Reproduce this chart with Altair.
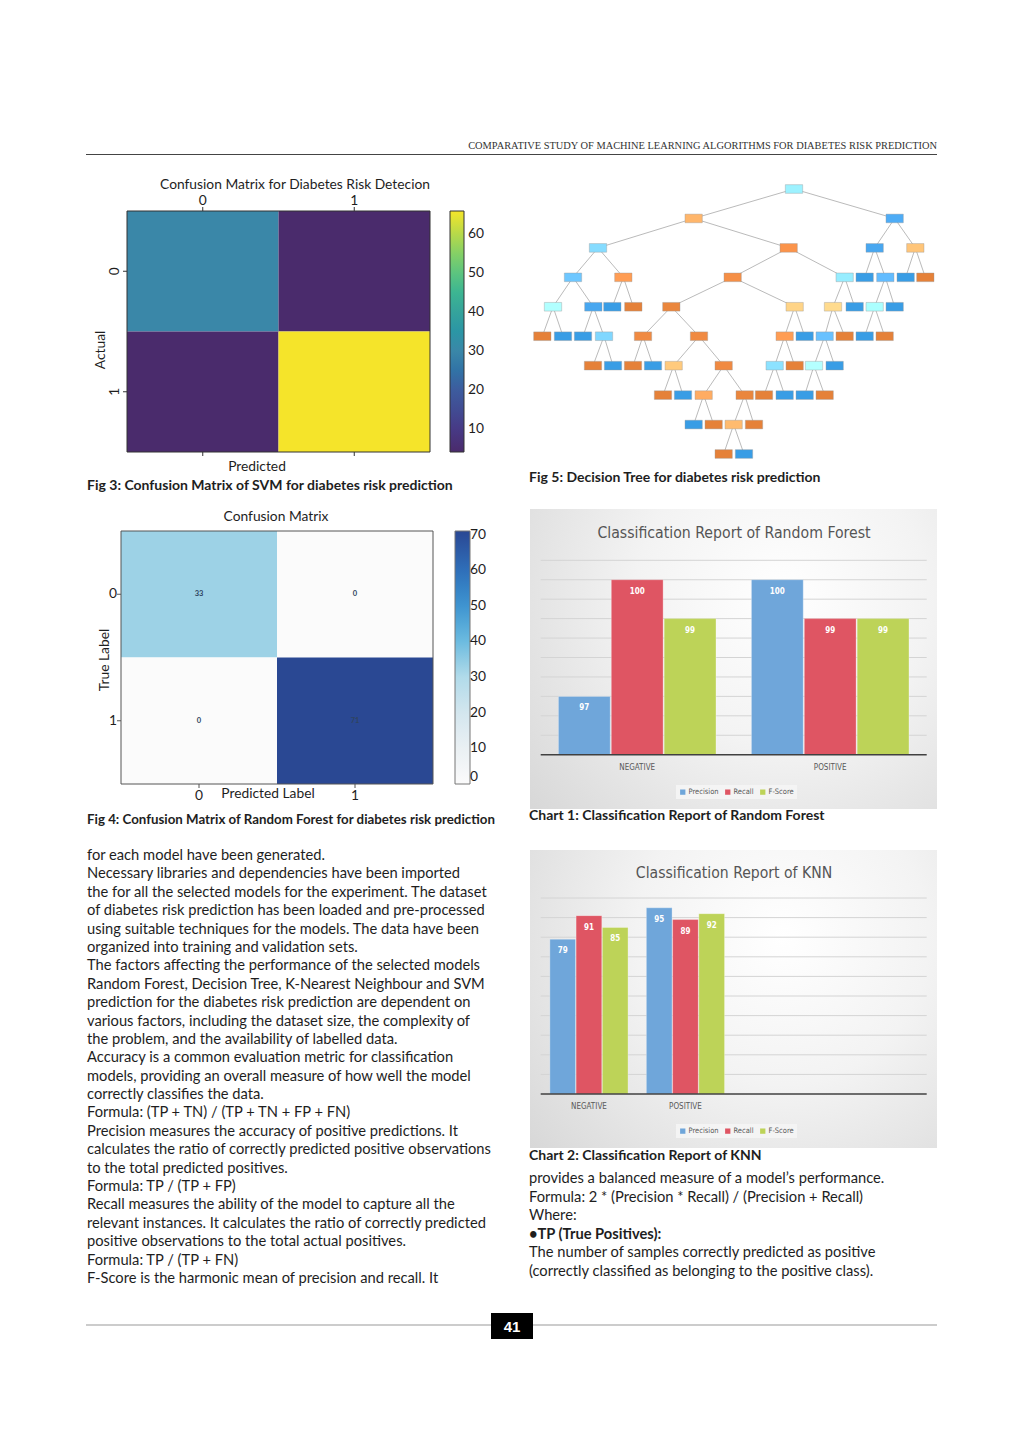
import altair as alt
import pandas as pd

# ---------------- data ----------------
# Fig 3: SVM confusion matrix
svm_pred = ["0", "1", "0", "1"]
svm_actual = ["0", "0", "1", "1"]
svm_counts = [30, 4, 4, 66]
svm_ticks = ["0", "1"]
svm_cbar_ticks = [10, 20, 30, 40, 50, 60]

# Fig 4: Random Forest confusion matrix
rf_pred = ["0", "1", "0", "1"]
rf_true = ["0", "0", "1", "1"]
rf_counts = [33, 0, 0, 71]
rf_ticks = ["0", "1"]
rf_cbar_ticks = [0, 10, 20, 30, 40, 50, 60, 70]

# Fig 5: decision tree nodes (horizontal slot, depth, parent id, class balance -1 orange .. +1 blue)
tree_x = [798, 497, 1100, 210, 782, 1040, 1162, 135, 286, 614, 950, 1010, 1072, 1133, 1192,
          75, 196, 253, 316, 430, 800, 915, 980, 1040, 1100,
          43, 105, 165, 228, 345, 513, 770, 830, 890, 950, 1010, 1070,
          195, 255, 315, 375, 437, 587, 740, 800, 858, 920,
          405, 465, 527, 650, 708, 770, 830, 890,
          497, 557, 617, 678, 587, 648]
tree_depth = [0, 1, 1, 2, 2, 2, 2, 3, 3, 3, 3, 3, 3, 3, 3,
              4, 4, 4, 4, 4, 4, 4, 4, 4, 4,
              5, 5, 5, 5, 5, 5, 5, 5, 5, 5, 5, 5,
              6, 6, 6, 6, 6, 6, 6, 6, 6, 6,
              7, 7, 7, 7, 7, 7, 7, 7,
              8, 8, 8, 8, 9, 9]
tree_parent = [-1, 0, 0, 1, 1, 2, 2, 3, 3, 4, 4, 5, 5, 6, 6,
               7, 7, 8, 8, 9, 9, 10, 10, 12, 12,
               15, 15, 16, 16, 19, 19, 20, 20, 21, 21, 23, 23,
               28, 28, 29, 29, 30, 30, 31, 31, 33, 33,
               41, 41, 42, 42, 43, 43, 45, 45,
               49, 49, 50, 50, 57, 57]
tree_balance = [0.2, -0.45, 0.85, 0.4, -0.8, 0.9, -0.3, 0.6, -0.7, -0.85, 0.25, 1.0, 0.7, 1.0, -1.0,
                0.03, 0.9, 1.0, -1.0, -0.95, -0.15, -0.08, 1.0, 0.08, 1.0,
                -1.0, 1.0, 1.0, 0.45, -0.9, -0.9, -0.7, 1.0, 0.65, -1.0, 1.0, -1.0,
                -1.0, 1.0, -1.0, 1.0, -0.25, -0.9, 0.35, -1.0, 0.0, 1.0,
                -1.0, 1.0, -0.55, -0.95, -1.0, 1.0, 1.0, -1.0,
                1.0, -1.0, -0.4, -1.0, -1.0, 1.0]

# Chart 1 / Chart 2: classification reports
classes = ["NEGATIVE", "POSITIVE"]
metrics = ["Precision", "Recall", "F-Score"]
rf_precision = [97, 100]
rf_recall = [100, 99]
rf_fscore = [99, 99]
rf_grid = [96.0, 96.5, 97.0, 97.5, 98.0, 98.5, 99.0, 99.5, 100.0, 100.5]
knn_precision = [79, 95]
knn_recall = [91, 89]
knn_fscore = [85, 92]
knn_grid = [10, 20, 30, 40, 50, 60, 70, 80, 90, 100]

# Text
header_text = "COMPARATIVE STUDY OF MACHINE LEARNING ALGORITHMS FOR DIABETES RISK PREDICTION"
left_lines = [
    "for each model have been generated.",
    "Necessary libraries and dependencies have been imported",
    "the for all the selected models for the experiment.  The dataset",
    "of diabetes risk prediction has been loaded and pre-processed",
    "using suitable techniques for the models. The data have been",
    "organized into training and validation sets.",
    "The factors affecting the performance of the selected models",
    "Random Forest, Decision Tree, K-Nearest Neighbour and SVM",
    "prediction for the diabetes risk prediction are dependent on",
    "various factors, including the dataset size, the complexity of",
    "the problem, and the availability of labelled data.",
    "Accuracy is a common evaluation metric for classification",
    "models, providing an overall measure of how well the model",
    "correctly classifies the data.",
    "Formula: (TP + TN) / (TP + TN + FP + FN)",
    "Precision measures the accuracy of positive predictions. It",
    "calculates the ratio of correctly predicted positive observations",
    "to the total predicted positives.",
    "Formula: TP / (TP + FP)",
    "Recall measures the ability of the model to capture all the",
    "relevant instances. It calculates the ratio of correctly predicted",
    "positive observations to the total actual positives.",
    "Formula: TP / (TP + FN)",
    "F-Score is the harmonic mean of precision and recall. It",
]
right_lines = [
    "provides a balanced measure of a model\u2019s performance.",
    "Formula: 2 * (Precision * Recall) / (Precision + Recall)",
    "Where:",
    "\u2022TP (True Positives):",
    "The number of samples correctly predicted as positive",
    "(correctly classified as belonging to the positive class).",
]
right_bold = [False, False, False, True, False, False]

# ---------------- helpers ----------------
FONT = "Lato"
NARROW = "'DejaVu Sans Condensed', 'Liberation Sans Narrow', Roboto, sans-serif"
SERIF = "'Liberation Serif', 'DejaVu Serif', serif"
TXT = "#1e1e1e"
MPL = 13.8
BODY = 14.7


def P(v):
    return v - 8


def one():
    return pd.DataFrame({"t": [""]})


def label(text, x, y, size=12.0, weight="normal", align="center", angle=0, color=TXT, font=FONT):
    return alt.Chart(pd.DataFrame({"t": [text]})).mark_text(
        align=align, baseline="middle", fontSize=size, fontWeight=weight,
        angle=angle, color=color, font=font
    ).encode(x=alt.value(P(x)), y=alt.value(P(y)), text="t:N")


def hrule(x1, x2, y, color="#333", width=1.0):
    return alt.Chart(one()).mark_rule(color=color, strokeWidth=width).encode(
        x=alt.value(P(x1)), x2=alt.value(P(x2)), y=alt.value(P(y)))


def frame(x1, x2, y1, y2, color="#333", width=1.0):
    return alt.Chart(one()).mark_rect(filled=False, stroke=color, strokeWidth=width).encode(
        x=alt.value(P(x1)), x2=alt.value(P(x2)), y=alt.value(P(y1)), y2=alt.value(P(y2)))


# ---------------- Fig 3: SVM confusion matrix ----------------
svm_df = pd.DataFrame({"pred": svm_pred, "act": svm_actual, "n": svm_counts})
svm_tick_df = pd.DataFrame({"k": svm_ticks})
sx = alt.Scale(domain=svm_ticks, range=[P(127), P(430)], paddingInner=0, paddingOuter=0)
sy = alt.Scale(domain=svm_ticks, range=[P(211), P(452)], paddingInner=0, paddingOuter=0)
vir_dom = [4, 10, 20, 30, 40, 50, 60, 66]
vir_rng = ["#4a2b6c", "#473a86", "#3d5c9e", "#3a87a8", "#35a39b", "#5cc47f", "#b6d94a", "#f5e42a"]

svm_cells = alt.Chart(svm_df).mark_rect().encode(
    x=alt.X("pred:N", scale=sx, axis=None),
    y=alt.Y("act:N", scale=sy, axis=None),
    color=alt.Color("n:Q", scale=alt.Scale(domain=vir_dom, range=vir_rng),
                    legend=alt.Legend(orient="none", legendX=P(450), legendY=P(211),
                                      direction="vertical", gradientLength=241,
                                      gradientThickness=14, values=svm_cbar_ticks, title=None,
                                      labelFont=FONT, labelFontSize=MPL, labelColor=TXT,
                                      gradientStrokeColor="#333", gradientStrokeWidth=1,
                                      labelOffset=4)),
)
svm_top_lab = alt.Chart(svm_tick_df).mark_text(fontSize=MPL, font=FONT, color=TXT, baseline="middle").encode(
    x=alt.X("k:N", scale=sx, axis=None, bandPosition=0.5), y=alt.value(P(201)), text="k:N")
svm_top_tick = alt.Chart(svm_tick_df).mark_rule(color="#333").encode(
    x=alt.X("k:N", scale=sx, axis=None, bandPosition=0.5), y=alt.value(P(207)), y2=alt.value(P(211)))
svm_bot_tick = alt.Chart(svm_tick_df).mark_rule(color="#333").encode(
    x=alt.X("k:N", scale=sx, axis=None, bandPosition=0.5), y=alt.value(P(452)), y2=alt.value(P(456)))
svm_left_lab = alt.Chart(svm_tick_df).mark_text(fontSize=MPL, font=FONT, color=TXT, angle=270, baseline="middle").encode(
    y=alt.Y("k:N", scale=sy, axis=None, bandPosition=0.5), x=alt.value(P(115)), text="k:N")
svm_left_tick = alt.Chart(svm_tick_df).mark_rule(color="#333").encode(
    y=alt.Y("k:N", scale=sy, axis=None, bandPosition=0.5), x=alt.value(P(123)), x2=alt.value(P(127)))

svm_group = alt.layer(
    svm_cells, frame(127, 430, 211, 452), svm_top_lab, svm_top_tick, svm_bot_tick, svm_left_lab, svm_left_tick,
    label("Confusion Matrix for Diabetes Risk Detecion", 295, 185, size=MPL),
    label("Actual", 101, 350, size=MPL, angle=270),
    label("Predicted", 257, 467, size=MPL),
)

# ---------------- Fig 4: RF confusion matrix ----------------
rf_df = pd.DataFrame({"pred": rf_pred, "tru": rf_true, "n": rf_counts})
rf_tick_df = pd.DataFrame({"k": rf_ticks})
rx = alt.Scale(domain=rf_ticks, range=[P(121), P(433)], paddingInner=0, paddingOuter=0)
ry = alt.Scale(domain=rf_ticks, range=[P(531), P(784)], paddingInner=0, paddingOuter=0)
blues_dom = [0, 10, 20, 30, 40, 50, 60, 71]
blues_rng = ["#fbfbfb", "#eaf0f3", "#d3e6ee", "#b1dbea", "#6cbbe0", "#3f94d0", "#2f6fb9", "#2a4893"]

rf_cells = alt.Chart(rf_df).mark_rect().encode(
    x=alt.X("pred:N", scale=rx, axis=None),
    y=alt.Y("tru:N", scale=ry, axis=None),
    color=alt.Color("n:Q", scale=alt.Scale(domain=blues_dom, range=blues_rng),
                    legend=alt.Legend(orient="none", legendX=P(455), legendY=P(531),
                                      direction="vertical", gradientLength=253,
                                      gradientThickness=15, values=rf_cbar_ticks, title=None,
                                      labelFont=FONT, labelFontSize=MPL, labelColor=TXT,
                                      gradientStrokeColor="#777", gradientStrokeWidth=1,
                                      labelOffset=0)),
)
rf_ann = alt.Chart(rf_df).mark_text(fontSize=7.5, font=FONT, fontWeight="bold", color="#2f4460").encode(
    x=alt.X("pred:N", scale=rx, axis=None, bandPosition=0.5),
    y=alt.Y("tru:N", scale=ry, axis=None, bandPosition=0.5),
    text="n:Q")
rf_bot_lab = alt.Chart(rf_tick_df).mark_text(fontSize=MPL, font=FONT, color=TXT, baseline="middle").encode(
    x=alt.X("k:N", scale=rx, axis=None, bandPosition=0.5), y=alt.value(P(796)), text="k:N")
rf_bot_tick = alt.Chart(rf_tick_df).mark_rule(color="#555").encode(
    x=alt.X("k:N", scale=rx, axis=None, bandPosition=0.5), y=alt.value(P(784)), y2=alt.value(P(788)))
rf_left_lab = alt.Chart(rf_tick_df).mark_text(fontSize=MPL, font=FONT, color=TXT, align="right", baseline="middle").encode(
    y=alt.Y("k:N", scale=ry, axis=None, bandPosition=0.5), x=alt.value(P(117)), text="k:N")
rf_left_tick = alt.Chart(rf_tick_df).mark_rule(color="#555").encode(
    y=alt.Y("k:N", scale=ry, axis=None, bandPosition=0.5), x=alt.value(P(117)), x2=alt.value(P(121)))

rf_group = alt.layer(
    rf_cells, frame(121, 433, 531, 784, color="#555"), rf_ann, rf_bot_lab, rf_bot_tick, rf_left_lab, rf_left_tick,
    label("Confusion Matrix", 276, 517, size=MPL),
    label("True Label", 105, 660, size=MPL, angle=270),
    label("Predicted Label", 268, 794, size=MPL),
)

# ---------------- Fig 5: decision tree ----------------
nodes = pd.DataFrame({"id": list(range(len(tree_x))), "tx": tree_x, "d": tree_depth,
                      "parent": tree_parent, "bal": tree_balance})
edges = nodes[nodes["parent"] >= 0].copy()
edges["px"] = [tree_x[p] for p in edges["parent"]]
edges["pd"] = [tree_depth[p] for p in edges["parent"]]
tx_s = alt.Scale(domain=[0, 1230], range=[P(528), P(938)])
ty_s = alt.Scale(domain=[0, 9], range=[P(189), P(454)])

tree_edges = alt.Chart(edges).mark_rule(color="#a8a8a8", strokeWidth=0.8).encode(
    x=alt.X("px:Q", scale=tx_s, axis=None), y=alt.Y("pd:Q", scale=ty_s, axis=None),
    x2="tx:Q", y2="d:Q")
tree_nodes = alt.Chart(nodes).mark_point(
    shape="M-1,-0.5L1,-0.5L1,0.5L-1,0.5Z", filled=True, size=300, opacity=1,
    stroke="#9a9a9a", strokeWidth=0.5, strokeOpacity=0.8
).encode(
    x=alt.X("tx:Q", scale=tx_s, axis=None), y=alt.Y("d:Q", scale=ty_s, axis=None),
    fill=alt.Fill("bal:Q", scale=alt.Scale(domain=[-1, 0, 1], range=["#e58139", "#ffffff", "#399de5"]),
                  legend=None))
tree_group = alt.layer(tree_edges, tree_nodes)


# ---------------- Classification report charts ----------------
def report(prec, rec, fsc, grid, ydom, y_base_px, y_top_px, x_rng, x_axis_end, pad_outer,
           top, bottom, title, title_y, title_size, cls_y, legend_y, field_suffix):
    vals, cl, me = [], [], []
    for i, c in enumerate(classes):
        for m, arr in zip(metrics, [prec, rec, fsc]):
            cl.append(c)
            me.append(m)
            vals.append(arr[i])
    mf = "metric" + field_suffix
    df = pd.DataFrame({"cls": cl, mf: me, "val": vals})
    gdf = pd.DataFrame({"g": grid})
    cdf = pd.DataFrame({"c": classes})
    xs = alt.Scale(domain=classes, range=[P(x_rng[0]), P(x_rng[1])], paddingInner=0, paddingOuter=0)
    ys = alt.Scale(domain=ydom, range=[P(y_base_px), P(y_top_px)], zero=False, nice=False)
    xo = alt.Scale(domain=metrics, paddingInner=0.02, paddingOuter=pad_outer)

    panel = alt.Chart(one()).mark_rect(
        fill=alt.Gradient(gradient="radial", x1=0.62, y1=0.35, r1=0, x2=0.62, y2=0.35, r2=0.8,
                          stops=[alt.GradientStop(color="#ffffff", offset=0),
                                 alt.GradientStop(color="#f3f3f3", offset=0.45),
                                 alt.GradientStop(color="#d8d8d8", offset=1)])
    ).encode(x=alt.value(P(530)), x2=alt.value(P(937)), y=alt.value(P(top)), y2=alt.value(P(bottom)))
    gridl = alt.Chart(gdf).mark_rule(color="#d4d4d4", strokeWidth=1).encode(
        y=alt.Y("g:Q", scale=ys, axis=None), x=alt.value(P(540.7)), x2=alt.value(P(x_axis_end)))
    bars = alt.Chart(df).mark_bar(stroke="#ffffff", strokeWidth=0.3).encode(
        x=alt.X("cls:N", scale=xs, axis=None),
        xOffset=alt.XOffset(mf + ":N", scale=xo),
        y=alt.Y("val:Q", scale=ys, axis=None),
        y2=alt.datum(ydom[0]),
        color=alt.Color(mf + ":N", scale=alt.Scale(domain=metrics, range=["#6fa6da", "#df5563", "#bdd358"]),
                        legend=alt.Legend(orient="none", legendX=P(676), legendY=P(legend_y),
                                          direction="horizontal", title=None, symbolType="square",
                                          symbolSize=28, symbolStrokeWidth=0, labelFont=NARROW,
                                          labelFontSize=7.5, labelColor="#595959", labelOffset=2,
                                          columnPadding=5, fillColor="#f4f4f4", padding=3)),
    )
    vlab = alt.Chart(df).mark_text(color="white", fontWeight="bold", fontSize=8, font=NARROW,
                                   dy=12, baseline="middle").encode(
        x=alt.X("cls:N", scale=xs, axis=None),
        xOffset=alt.XOffset(mf + ":N", scale=xo),
        y=alt.Y("val:Q", scale=ys, axis=None),
        text="val:Q")
    base = alt.Chart(one()).mark_rule(color="#404040", strokeWidth=1.5).encode(
        y=alt.datum(ydom[0]), x=alt.value(P(540.7)), x2=alt.value(P(x_axis_end)))
    clab = alt.Chart(cdf).mark_text(color="#595959", fontSize=8, font=NARROW, baseline="middle").encode(
        x=alt.X("c:N", scale=xs, axis=None, bandPosition=0.5), y=alt.value(P(cls_y)), text="c:N")
    ttl = label(title, 734, title_y, size=title_size, color="#555555", font=NARROW)
    return alt.layer(panel, gridl, bars, vlab, base, clab, ttl)


rf_report = report(rf_precision, rf_recall, rf_fscore, rf_grid, [95.5, 100.5], 754.7, 560.3,
                   [540.7, 926.7], 926.7, 0.335, 509, 809,
                   "Classification Report of Random Forest", 533, 15.7, 768, 785, "_rf")
knn_report = report(knn_precision, knn_recall, knn_fscore, knn_grid, [0, 100], 1094, 898,
                    [540.7, 733.7], 926.7, 0.349, 850, 1148,
                    "Classification Report of KNN", 873, 15.6, 1107, 1124, "_knn")

# ---------------- text ----------------
left_df = pd.DataFrame({"i": list(range(len(left_lines))), "t": left_lines})
left_text = alt.Chart(left_df).mark_text(align="left", baseline="middle", fontSize=BODY, font=FONT, color=TXT).encode(
    x=alt.value(P(87)),
    y=alt.Y("i:Q", scale=alt.Scale(domain=[0, len(left_lines) - 1], range=[P(856), P(1279)]), axis=None),
    text="t:N")
right_df = pd.DataFrame({"j": list(range(len(right_lines))), "t": right_lines, "b": right_bold})
rys = alt.Scale(domain=[0, len(right_lines) - 1], range=[P(1179), P(1272)])
right_text = alt.Chart(right_df).transform_filter("!datum.b").mark_text(
    align="left", baseline="middle", fontSize=BODY, font=FONT, color=TXT).encode(
    x=alt.value(P(529)), y=alt.Y("j:Q", scale=rys, axis=None), text="t:N")
right_bold_text = alt.Chart(right_df).transform_filter("datum.b").mark_text(
    align="left", baseline="middle", fontSize=BODY, font=FONT, fontWeight="bold", color=TXT).encode(
    x=alt.value(P(529)), y=alt.Y("j:Q", scale=rys, axis=None), text="t:N")
right_group = alt.layer(right_text, right_bold_text)

page_bits = alt.layer(
    label(header_text, 937, 146, size=10.4, align="right", color="#333", font=SERIF),
    hrule(86, 937, 154.5, color="#444", width=1),
    label("Fig 3: Confusion Matrix of SVM for diabetes risk prediction", 87, 486, size=14, weight="bold", align="left"),
    label("Fig 4: Confusion Matrix of Random Forest for diabetes risk prediction", 87, 820, size=13.3, weight="bold", align="left"),
    label("Fig 5: Decision Tree for diabetes risk prediction", 529, 478, size=14, weight="bold", align="left"),
    label("Chart 1: Classification Report of Random Forest", 529, 816, size=14, weight="bold", align="left"),
    label("Chart 2: Classification Report of KNN", 529, 1156, size=14, weight="bold", align="left"),
    hrule(86, 937, 1325, color="#999", width=1.2),
    alt.Chart(one()).mark_rect(color="#000000").encode(
        x=alt.value(P(491)), x2=alt.value(P(533)), y=alt.value(P(1313)), y2=alt.value(P(1339))),
    label("41", 512, 1327, size=15, weight="bold", color="#ffffff", font="'Liberation Sans', sans-serif"),
)

chart = alt.layer(
    svm_group, rf_group, tree_group, rf_report, knn_report, left_text, right_group, page_bits
).resolve_scale(
    x="independent", y="independent", color="independent", fill="independent", xOffset="independent"
).resolve_legend(color="independent").properties(
    width=1008, height=1432, padding=0,
    autosize=alt.AutoSizeParams(type="none")
).configure_view(stroke=None)

chart.save("out.html", embed_options={"renderer": "svg", "actions": False})
